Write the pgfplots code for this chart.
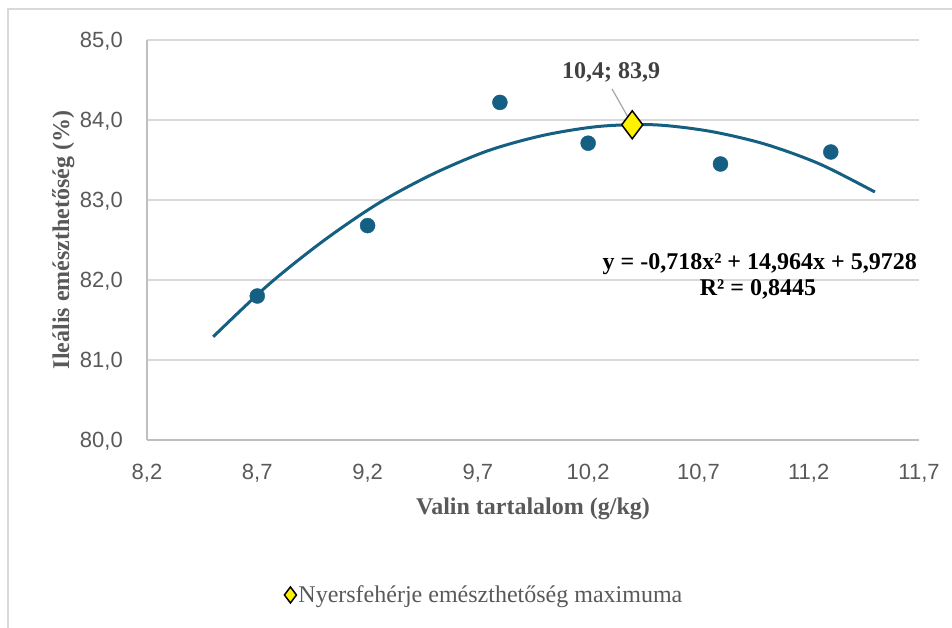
\documentclass[border=0pt]{standalone}
\usepackage{pgfplots}
\pgfplotsset{compat=1.18}
\usepackage{fontspec}
\setmainfont{Liberation Serif}
\newfontfamily\sansf{Liberation Sans}

\definecolor{dteal}{RGB}{21,96,130}
\definecolor{gridgray}{RGB}{217,217,217}
\definecolor{axisgray}{RGB}{191,191,191}
\definecolor{tickgray}{RGB}{89,89,89}
\definecolor{notegray}{RGB}{64,64,64}
\definecolor{leadgray}{RGB}{166,166,166}

\newcommand\tickfont{\sansf\fontsize{22}{26}\selectfont}
\newcommand\titlefont{\bfseries\fontsize{24}{29}\selectfont}

\begin{document}
\begin{tikzpicture}
  \useasboundingbox (-147pt,-188pt) rectangle (805pt,440pt);
  % outer chart frame (only top and left edges visible)
  \draw[gridgray, line width=1.5pt] (-139pt,-188pt) -- (-139pt,431pt) -- (805pt,431pt);

  \begin{axis}[
      at={(0pt,0pt)}, anchor=south west,
      scale only axis, width=772pt, height=400pt,
      xmin=8.2, xmax=11.7, ymin=80, ymax=85,
      xtick={8.2,8.7,9.2,9.7,10.2,10.7,11.2,11.7},
      ytick={80,81,82,83,84,85},
      axis x line*=bottom, axis y line*=left,
      axis line style={-, draw=axisgray, line width=1.5pt},
      ymajorgrids, major grid style={draw=gridgray, line width=1.5pt},
      major tick length=0pt,
      tick label style={font=\tickfont, text=tickgray, inner sep=0pt,
        /pgf/number format/fixed, /pgf/number format/fixed zerofill,
        /pgf/number format/precision=1, /pgf/number format/use comma,
        /pgf/number format/assume math mode=true},
      xticklabel style={anchor=base, yshift=-39.5pt},
      yticklabel style={anchor=base east, xshift=-24pt, yshift=-7.9pt},
      xlabel={Valin tartalalom (g/kg)},
      ylabel={Ileális emészthetőség (\%)},
      label style={font=\titlefont, text=tickgray},
      xlabel style={at={(axis description cs:0.5,-0.18625)}, anchor=base},
      ylabel style={at={(axis description cs:-0.101,0.5)}, anchor=base},
      clip=false,
      legend style={at={(axis description cs:0.437,-0.3875)}, anchor=center,
        draw=none, fill=none, font=\fontsize{24}{29}\selectfont, text=tickgray},
      legend image code/.code={\draw[#1, mark size=8pt] plot coordinates {(0.3cm,0cm)};},
    ]

    % polynomial trend line
    \addplot[smooth, color=dteal, line width=3pt, no marks, forget plot] coordinates {
      (8.50, 81.29) (8.75, 81.94) (9.00, 82.49) (9.25, 82.96) (9.50, 83.33)
      (9.75, 83.62) (10.00, 83.81) (10.25, 83.92) (10.50, 83.94) (10.75, 83.86)
      (11.00, 83.70) (11.25, 83.45) (11.50, 83.10)
    };

    % measured points
    \addplot[only marks, mark=*, mark size=7.5pt,
      mark options={fill=dteal, draw=dteal}, forget plot] coordinates {
      (8.7, 81.80) (9.2, 82.68) (9.8, 84.22) (10.2, 83.71) (10.8, 83.45) (11.3, 83.60)
    };

    % maximum
    \addplot[only marks, mark=diamond*, mark size=14pt,
      mark options={fill=yellow, draw=black, line width=1.5pt}] coordinates {
      (10.4, 83.94)
    };
    \addlegendentry{Nyersfehérje emészthetőség maximuma}

    \draw[leadgray, line width=1.2pt] (axis cs:10.308,84.39) -- (axis cs:10.4,83.94);
    \node[anchor=base, inner sep=0pt, font=\titlefont, text=notegray]
      at (axis cs:10.304,84.5125) {10,4; 83,9};

    \node[anchor=base east, inner sep=0pt, font=\titlefont]
      at (axis cs:11.691,82.125) {y = -0,718x² + 14,964x + 5,9728};
    \node[anchor=base, inner sep=0pt, font=\titlefont]
      at (axis cs:10.97,81.8) {R² = 0,8445};
  \end{axis}
\end{tikzpicture}
\end{document}
